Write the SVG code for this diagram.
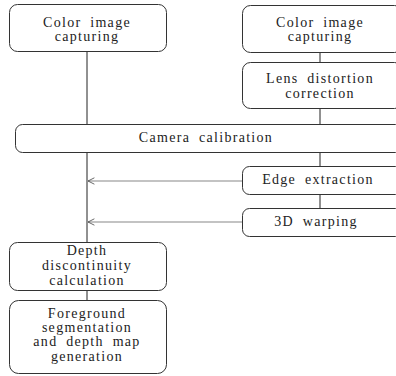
<svg xmlns="http://www.w3.org/2000/svg" width="396" height="376" viewBox="0 0 396 376">
<defs>
<style>
.box{fill:#fff;stroke:#333;stroke-width:1}
.t{font-family:"Liberation Serif",serif;font-size:14px;letter-spacing:1.3px;word-spacing:4px;fill:#222;text-anchor:middle}
.ln{stroke:#222;stroke-width:1;fill:none}
.ar{stroke:#888;stroke-width:1.2;fill:none}
.ah{stroke:#444;stroke-width:1;fill:none}
</style>
<marker id="open" viewBox="0 0 10 10" refX="9" refY="5" markerWidth="8" markerHeight="8" orient="auto" markerUnits="userSpaceOnUse">
<path d="M1,1 L9,5 L1,9" class="ah"/>
</marker>
</defs>
<rect width="396" height="376" fill="#fff"/>
<g id="connectors">
<line class="ln" x1="87" y1="51" x2="87" y2="124"/>
<line class="ln" x1="87" y1="152" x2="87" y2="242"/>
<line class="ln" x1="87" y1="290" x2="87" y2="300"/>
<line class="ln" x1="320" y1="52" x2="320" y2="62"/>
<line class="ln" x1="320" y1="108" x2="320" y2="124"/>
<line class="ln" x1="320" y1="152" x2="320" y2="166"/>
<line class="ln" x1="320" y1="194" x2="320" y2="208"/>
<line class="ar" x1="242" y1="181" x2="88" y2="181" marker-end="url(#open)"/>
<line class="ar" x1="242" y1="222" x2="88" y2="222" marker-end="url(#open)"/>
</g>
<g id="color1">
<rect class="box" x="9.5" y="4.5" width="157" height="47" rx="8"/>
<text class="t" x="87" y="27">Color image</text>
<text class="t" x="87" y="41">capturing</text>
</g>
<g id="color2">
<rect class="box" x="242.5" y="5.5" width="160" height="47" rx="8"/>
<text class="t" x="320" y="27">Color image</text>
<text class="t" x="320" y="41">capturing</text>
</g>
<g id="lens">
<rect class="box" x="242.5" y="62.5" width="160" height="46" rx="8"/>
<text class="t" x="320" y="83">Lens distortion</text>
<text class="t" x="320" y="98">correction</text>
</g>
<g id="calib">
<rect class="box" x="15.5" y="124.5" width="387" height="28" rx="7"/>
<text class="t" x="206" y="142">Camera calibration</text>
</g>
<g id="edge">
<rect class="box" x="242.5" y="166.5" width="160" height="28" rx="7"/>
<text class="t" x="318" y="184">Edge extraction</text>
</g>
<g id="warp">
<rect class="box" x="242.5" y="208.5" width="160" height="28" rx="7"/>
<text class="t" x="316" y="226">3D warping</text>
</g>
<g id="depth">
<rect class="box" x="9.5" y="242.5" width="157" height="48" rx="8"/>
<text class="t" x="87" y="255">Depth</text>
<text class="t" x="87" y="270">discontinuity</text>
<text class="t" x="87" y="285">calculation</text>
</g>
<g id="fg">
<rect class="box" x="9.5" y="300.5" width="157" height="73" rx="9"/>
<text class="t" x="87" y="318">Foreground</text>
<text class="t" x="87" y="332">segmentation</text>
<text class="t" x="87" y="346">and depth map</text>
<text class="t" x="87" y="361">generation</text>
</g>
</svg>
